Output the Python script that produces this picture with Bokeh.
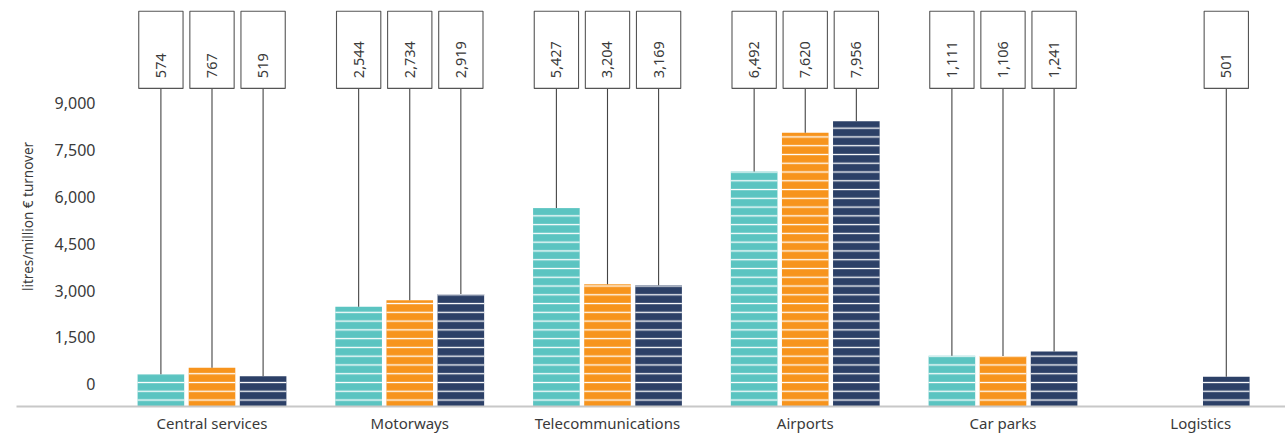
import math
from bokeh.plotting import figure
from bokeh.models import Range1d, FixedTicker, ColumnDataSource
from bokeh.core.properties import value
from bokeh.embed import file_html
from bokeh.resources import INLINE

# ---------------- data ----------------
categories = ["Central services", "Motorways", "Telecommunications",
              "Airports", "Car parks", "Logistics"]
series_1 = [574, 2544, 5427, 6492, 1111, None]
series_2 = [767, 2734, 3204, 7620, 1106, None]
series_3 = [519, 2919, 3169, 7956, 1241, 501]
series_colors = ["#5BC4C1", "#F7941D", "#2C4067"]
y_ticks = [0, 1500, 3000, 4500, 6000, 7500, 9000]
y_axis_title = "litres/million € turnover"

# ---------------- layout ----------------
FONT = "Noto Sans"
TEXT_COLOR = "#3a3a3a"
GROUP_PX = 197.75                 # pixels between group centres
SLOT = 51.1 / GROUP_PX            # distance between bars in a group
BAR_W = 46.6 / GROUP_PX
BOX_W = 44.3 / GROUP_PX
slots_per_group = [3, 3, 3, 3, 3, 2]

Y_START, Y_END = -366, 11245      # main value range (bars start at the baseline)
BOX_TOP = 11166
BOX_BOTTOM = 8914
BOX_TEXT_Y = 9213
AXIS_START, AXIS_END = -710, 12024  # range used by the printed tick scale

p = figure(width=1285, height=435, output_backend="svg", toolbar_location=None,
           x_range=Range1d(-0.98862, 5.4286), y_range=Range1d(Y_START, Y_END),
           y_axis_location=None, min_border_left=16, min_border_right=0,
           min_border_top=8, min_border_bottom=27)
p.extra_y_ranges = {"axis": Range1d(AXIS_START, AXIS_END)}
p.outline_line_color = None
p.xgrid.grid_line_color = None
p.ygrid.grid_line_color = None
p.background_fill_color = "white"
p.border_fill_color = "white"

all_series = [series_1, series_2, series_3]
for si, (vals, col) in enumerate(zip(all_series, series_colors)):
    xs, vs = [], []
    for gi, v in enumerate(vals):
        if v is None:
            continue
        n = slots_per_group[gi]
        slot_idx = si - (3 - n)
        off = (slot_idx - (n - 1) / 2) * SLOT
        xs.append(gi + off)
        vs.append(v)
    src = ColumnDataSource(dict(x=xs, top=vs, lab=[f"{v:,}" for v in vs],
                                bb=[BOX_BOTTOM] * len(xs),
                                ty=[BOX_TEXT_Y] * len(xs)))
    p.vbar(x="x", top="top", bottom=Y_START, width=BAR_W, source=src,
           fill_color=col, line_color=None,
           hatch_pattern="horizontal_line", hatch_color="white",
           hatch_scale=8.77, hatch_weight=1.3)
    p.segment(x0="x", y0="top", x1="x", y1="bb", source=src,
              line_color="#444444", line_width=1.1)
    p.quad(left=[x - BOX_W / 2 for x in xs], right=[x + BOX_W / 2 for x in xs],
           top=[BOX_TOP] * len(xs), bottom=[BOX_BOTTOM] * len(xs),
           fill_color="white", line_color="#555555", line_width=1.1)
    p.text(x="x", y="ty", text="lab", source=src, angle=math.pi / 2,
           text_align="left", text_baseline="middle",
           text_font=value(FONT), text_font_size="14.5px", text_color=TEXT_COLOR)

# printed value scale on the left
tick_x = (95 - 211.5) / GROUP_PX
p.text(x=[tick_x] * len(y_ticks), y=y_ticks, text=[f"{t:,}" for t in y_ticks],
       y_range_name="axis", text_align="right", text_baseline="middle",
       text_font=value(FONT), text_font_size="16px", text_color=TEXT_COLOR)
p.text(x=[(28 - 211.5) / GROUP_PX], y=[5371], text=[y_axis_title],
       y_range_name="axis", angle=math.pi / 2, text_align="center",
       text_baseline="middle", text_font=value(FONT), text_font_size="13.5px",
       text_color=TEXT_COLOR)

# category axis
xa = p.xaxis[0]
xa.ticker = FixedTicker(ticks=list(range(len(categories))))
xa.major_label_overrides = {i: c for i, c in enumerate(categories)}
xa.axis_line_color = "#c8c8c8"
xa.axis_line_width = 2
xa.major_tick_line_color = None
xa.minor_tick_line_color = None
xa.major_tick_out = 0
xa.major_label_standoff = 6
xa.major_label_text_font = FONT
xa.major_label_text_font_size = "15px"
xa.major_label_text_color = TEXT_COLOR

open("out.html", "w").write(file_html(p, INLINE))
